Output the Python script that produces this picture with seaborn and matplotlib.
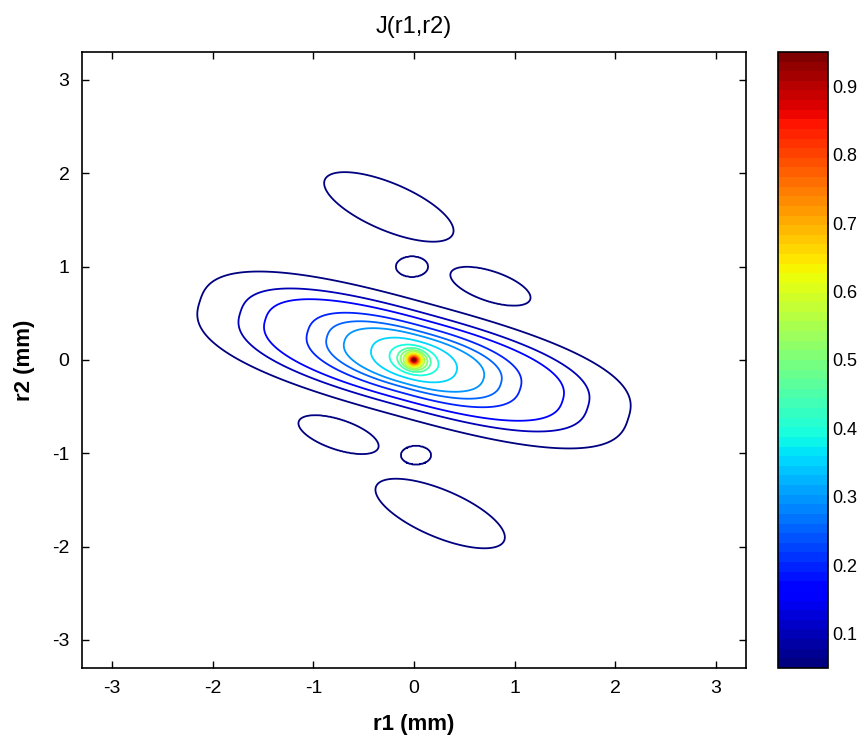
import numpy as np
import matplotlib
matplotlib.use("Agg")
import matplotlib.pyplot as plt
import seaborn as sns
from matplotlib.colors import Normalize
from matplotlib.cm import ScalarMappable

###############################################################################
# Data
###############################################################################

# contour levels of J(r1, r2)
levels = [0.05, 0.10, 0.15, 0.20, 0.25, 0.30, 0.35, 0.40, 0.45, 0.50,
          0.55, 0.60, 0.65, 0.70, 0.75, 0.80, 0.85, 0.90, 0.95]

# half length along the tilted long axis and half width across it (mm)
half_length = [2.22, 1.80, 1.54, 1.10, 0.90, 0.72, 0.44, 0.25, 0.17, 0.135,
               0.105, 0.085, 0.068, 0.055, 0.045, 0.036, 0.028, 0.020, 0.012]
half_width = [0.62, 0.51, 0.44, 0.37, 0.31, 0.265, 0.205, 0.155, 0.125, 0.105,
              0.09, 0.072, 0.06, 0.05, 0.04, 0.032, 0.025, 0.018, 0.011]
# squareness of each contour (2 = plain ellipse)
shape_power = [2.7, 2.6, 2.5, 2.5, 2.4, 2.3, 2.2, 2.0, 2.0, 2.0,
               2.0, 2.0, 2.0, 2.0, 2.0, 2.0, 2.0, 2.0, 2.0]
main_tilt = -16.5  # degrees

# side lobes, only the lowest level shows around them
lobe_r1 = [-0.25, -0.02, 0.76, -0.75, 0.02, 0.26]
lobe_r2 = [1.64, 1.00, 0.79, -0.80, -1.02, -1.645]
lobe_length = [0.70, 0.16, 0.42, 0.42, 0.15, 0.70]
lobe_width = [0.25, 0.11, 0.16, 0.16, 0.10, 0.25]
lobe_tilt = [-25, 0, -20, -20, 0, -25]

ticks = [-3, -2, -1, 0, 1, 2, 3]
cbar_ticks = [0.1, 0.2, 0.3, 0.4, 0.5, 0.6, 0.7, 0.8, 0.9]

###############################################################################
# Helper functions
###############################################################################

# grid, finer near the peak so the small rings stay round
r1 = np.unique(np.round(np.concatenate([np.arange(-3.3, 3.3001, 0.008),
                                        np.arange(-0.12, 0.12, 0.001)]), 4))
r2 = r1.copy()
X, Y = np.meshgrid(r1, r2)


def ramp(x0, y0, a, b, tilt, p, eps=0.04):
    """0 outside the contour, 1 inside, 0.5 on it."""
    t = np.deg2rad(tilt)
    u = (X - x0) * np.cos(t) + (Y - y0) * np.sin(t)
    v = -(X - x0) * np.sin(t) + (Y - y0) * np.cos(t)
    rho = (np.abs(u / a) ** p + np.abs(v / b) ** p) ** (1.0 / p)
    return np.clip((1 - rho) / eps + 0.5, 0, 1)


step = levels[1] - levels[0]
J = np.full(X.shape, 0.5 * step)
for a, b, p in zip(half_length, half_width, shape_power):
    J += step * ramp(0.0, 0.0, a, b, main_tilt, p)
for x0, y0, a, b, t in zip(lobe_r1, lobe_r2, lobe_length, lobe_width, lobe_tilt):
    J += step * ramp(x0, y0, a, b, t, 2.0)

###############################################################################
# Plot
###############################################################################

sns.set_style("ticks")
plt.rcParams["font.family"] = ["Liberation Sans", "DejaVu Sans"]
plt.rcParams["text.color"] = "black"
plt.rcParams["axes.labelcolor"] = "black"

cmap = plt.get_cmap("jet", 64)
norm = Normalize(vmin=levels[0], vmax=levels[-1])

fig = plt.figure(figsize=(8.67, 7.47), dpi=100)
ax = fig.add_axes([0.0946, 0.1058, 0.7658, 0.8246])
cax = fig.add_axes([0.8973, 0.1058, 0.0577, 0.8246])

ax.contour(r1, r2, J, levels=levels, cmap=cmap, norm=norm, linewidths=1.3)

ax.set_xlim(-3.3, 3.3)
ax.set_ylim(-3.3, 3.3)
ax.set_xticks(ticks)
ax.set_yticks(ticks)
ax.set_xticklabels([str(t) for t in ticks])
ax.set_yticklabels([str(t) for t in ticks])
ax.tick_params(direction="in", length=5, width=1, top=True, right=True,
               labelsize=14, pad=9, colors="black")
for s in ax.spines.values():
    s.set_visible(True)
    s.set_linewidth(1.2)
    s.set_color("black")

ax.set_title("J(r1,r2)", fontsize=17, pad=14, color="black")
ax.set_xlabel("r1 (mm)", fontsize=16, fontweight="bold", labelpad=12)
ax.set_ylabel("r2 (mm)", fontsize=16, fontweight="bold", labelpad=12)

sm = ScalarMappable(norm=norm, cmap=cmap)
cb = fig.colorbar(sm, cax=cax)
cb.set_ticks(cbar_ticks)
cb.set_ticklabels([f"{t:.1f}" for t in cbar_ticks])
cax.tick_params(direction="in", length=5, width=1, left=True, right=True,
                labelsize=13, pad=3, colors="black")
cb.outline.set_linewidth(1.2)
cb.outline.set_edgecolor("black")

fig.savefig("out.png", dpi=100)
